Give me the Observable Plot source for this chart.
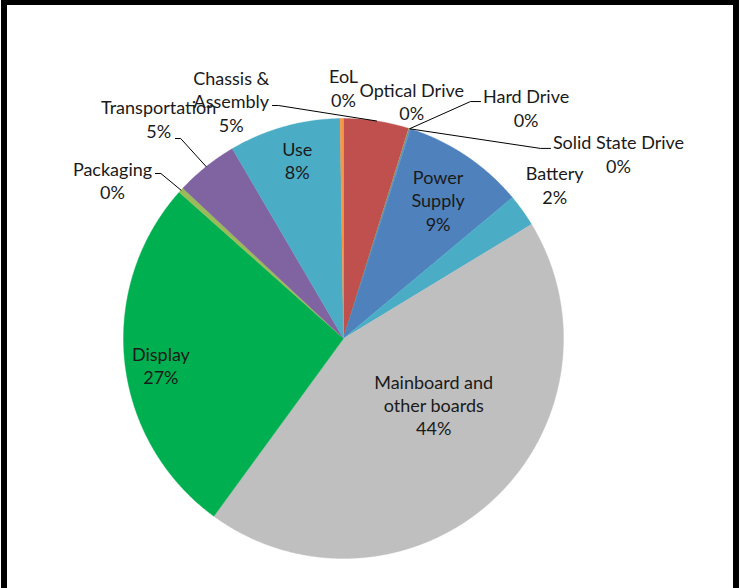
<!DOCTYPE html>
<html>
<head>
<meta charset="utf-8">
<script src="https://cdn.jsdelivr.net/npm/d3@7"></script>
<script src="https://cdn.jsdelivr.net/npm/@observablehq/plot@0.6"></script>
<style>
  html, body { margin: 0; padding: 0; background: #fff; }
  #wrap { position: relative; width: 743px; height: 588px; overflow: hidden; }
  #chart { position: absolute; left: 0; top: 0; }
  #frame { position: absolute; left: 1px; top: 0; width: 726px; height: 600px;
           border-top: 5px solid #000; border-left: 6px solid #000; border-right: 6px solid #000; }
</style>
</head>
<body>
<div id="wrap"><div id="chart"></div><div id="frame"></div></div>
<script>
// ---- data (clockwise from 12 o'clock) ----
const categories = ["Chassis & Assembly", "Optical Drive", "Hard Drive", "Solid State Drive",
  "Power Supply", "Battery", "Mainboard and other boards", "Display", "Packaging",
  "Transportation", "Use", "EoL"];
const values = [4.8, 0.05, 0.05, 0.05, 9.0, 2.4, 43.8, 26.6, 0.4, 4.6, 8.2, 0.25];
const labelNames = ["Chassis &\nAssembly", "Optical Drive", "Hard Drive", "Solid State Drive",
  "Power\nSupply", "Battery", "Mainboard and\nother boards", "Display", "Packaging",
  "Transportation", "Use", "EoL"];
const colors = ["#C0504D", "#9BBB59", "#8064A2", "#4BACC6", "#4F81BD", "#4BACC6",
  "#BFBFBF", "#00B050", "#9BBB59", "#8064A2", "#4BACC6", "#F79646"];

// ---- layout (data units, pie radius = 1) ----
const labelPos = {
  "Chassis & Assembly": [-0.51, 1.08], "Optical Drive": [0.31, 1.08], "Hard Drive": [0.83, 1.05],
  "Solid State Drive": [1.25, 0.84], "Power Supply": [0.43, 0.63], "Battery": [0.96, 0.70],
  "Mainboard and other boards": [0.41, -0.30], "Display": [-0.83, -0.12], "Packaging": [-1.05, 0.72],
  "Transportation": [-0.84, 1.00], "Use": [-0.21, 0.81], "EoL": [0.0, 1.14]
};
const leaderStart = {
  "Packaging": [[-0.855, 0.75], [-0.83, 0.75]],
  "Transportation": [[-0.764, 0.909], [-0.74, 0.909]],
  "Chassis & Assembly": [[-0.323, 1.059], [-0.295, 1.059]],
  "Hard Drive": [[0.623, 1.077], [0.577, 1.077]],
  "Solid State Drive": [[0.941, 0.864], [0.895, 0.864]]
};

const total = d3.sum(values);
const arcs = d3.pie().sort(null).value(d => d)(values);

// slice polygons
const slicePts = [];
arcs.forEach((a, i) => {
  const key = categories[i];
  slicePts.push({key, x: 0, y: 0});
  const n = Math.max(2, Math.ceil((a.endAngle - a.startAngle) / 0.005));
  for (let k = 0; k <= n; k++) {
    const t = a.startAngle + (a.endAngle - a.startAngle) * k / n;
    slicePts.push({key, x: Math.sin(t), y: Math.cos(t)});
  }
  slicePts.push({key, x: 0, y: 0});
});

// leader lines
const leaderPts = [];
arcs.forEach((a, i) => {
  const key = categories[i];
  if (!leaderStart[key]) return;
  const mid = (a.startAngle + a.endAngle) / 2;
  leaderStart[key].forEach(([x, y]) => leaderPts.push({key, x, y}));
  leaderPts.push({key, x: Math.sin(mid), y: Math.cos(mid)});
});

// labels
const labels = categories.map((c, i) => ({
  key: c,
  x: labelPos[c][0],
  y: labelPos[c][1],
  text: labelNames[i] + "\n" + Math.round(values[i] / total * 100) + "%"
}));

const chart = Plot.plot({
  width: 743,
  height: 588,
  margin: 0,
  x: {domain: [-1, 1], range: [123, 563], axis: null},
  y: {domain: [-1, 1], range: [558, 118], axis: null},
  color: {domain: categories, range: colors},
  style: {background: "transparent"},
  marks: [
    Plot.line(slicePts, {x: "x", y: "y", z: "key", fill: "key", stroke: "key", strokeWidth: 0.4}),
    Plot.line(leaderPts, {x: "x", y: "y", z: "key", stroke: "#000", strokeWidth: 1}),
    Plot.text(labels, {x: "x", y: "y", text: "text", fontSize: 18, lineHeight: 1.3,
      fill: "#1a1a1a", fontFamily: "Lato, 'Noto Sans', sans-serif"})
  ]
});
document.getElementById("chart").appendChild(chart);
</script>
</body>
</html>
